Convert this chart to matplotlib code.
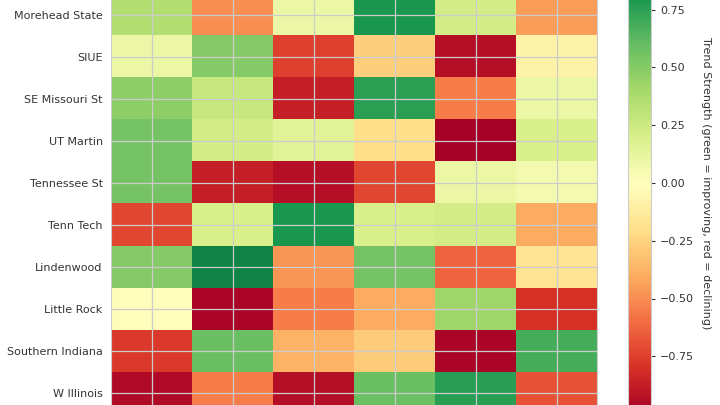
import numpy as np
import matplotlib
matplotlib.use("Agg")
from matplotlib import pyplot as plt

# Teams shown (top to bottom)
teams = [
    "Morehead State",
    "SIUE",
    "SE Missouri St",
    "UT Martin",
    "Tennessee St",
    "Tenn Tech",
    "Lindenwood",
    "Little Rock",
    "Southern Indiana",
    "W Illinois",
]

# Trend strength per team, six columns each
morehead = [0.35, -0.50, 0.10, 0.80, 0.22, -0.45]
siue = [0.10, 0.50, -0.75, -0.27, -0.93, -0.08]
semo = [0.47, 0.27, -0.87, 0.75, -0.55, 0.10]
ut_martin = [0.55, 0.22, 0.15, -0.20, -1.00, 0.20]
tennessee_st = [0.55, -0.87, -0.93, -0.72, 0.10, 0.06]
tenn_tech = [-0.72, 0.20, 0.80, 0.20, 0.22, -0.40]
lindenwood = [0.50, 0.88, -0.47, 0.55, -0.63, -0.17]
little_rock = [-0.01, -0.97, -0.55, -0.40, 0.42, -0.80]
southern_indiana = [-0.77, 0.58, -0.38, -0.28, -0.97, 0.68]
w_illinois = [-0.95, -0.55, -0.93, 0.58, 0.76, -0.68]

values = np.array([
    morehead, siue, semo, ut_martin, tennessee_st,
    tenn_tech, lindenwood, little_rock, southern_indiana, w_illinois,
])

text_color = "#333333"
grid_color = "#cccccc"

fig = plt.figure(figsize=(7.2, 4.05), dpi=100)

# Heatmap axes is taller than the figure (top row is cut off)
ax = fig.add_axes([111 / 720, -9 / 405, 486 / 720, 462 / 405])
im = ax.imshow(values, cmap="RdYlGn", vmin=-1, vmax=1, aspect="auto",
               interpolation="nearest")
ax.set_ylim(len(teams) - 0.5, -1.5)

ax.set_yticks(range(len(teams)))
ax.set_yticklabels(teams, fontsize=8, color=text_color)
ax.set_xticks(range(values.shape[1]))
ax.tick_params(axis="y", length=0, pad=6)
ax.tick_params(axis="x", length=0, labelbottom=False)

ax.grid(True, color=grid_color, linewidth=0.9)
ax.set_axisbelow(False)
for spine in ax.spines.values():
    spine.set_color(grid_color)

# Colorbar
cax = fig.add_axes([628 / 720, -9 / 405, 23 / 720, 462 / 405])
cbar = fig.colorbar(im, cax=cax)
cbar.set_ticks([-0.75, -0.5, -0.25, 0, 0.25, 0.5, 0.75])
cbar.ax.tick_params(labelsize=8, labelcolor=text_color, color=text_color,
                    length=3, width=0.8)
cbar.outline.set_edgecolor(grid_color)
cbar.set_label("Trend Strength (green = improving, red = declining)",
               rotation=270, labelpad=12, fontsize=8, color=text_color)

fig.savefig("out.png", dpi=100)
